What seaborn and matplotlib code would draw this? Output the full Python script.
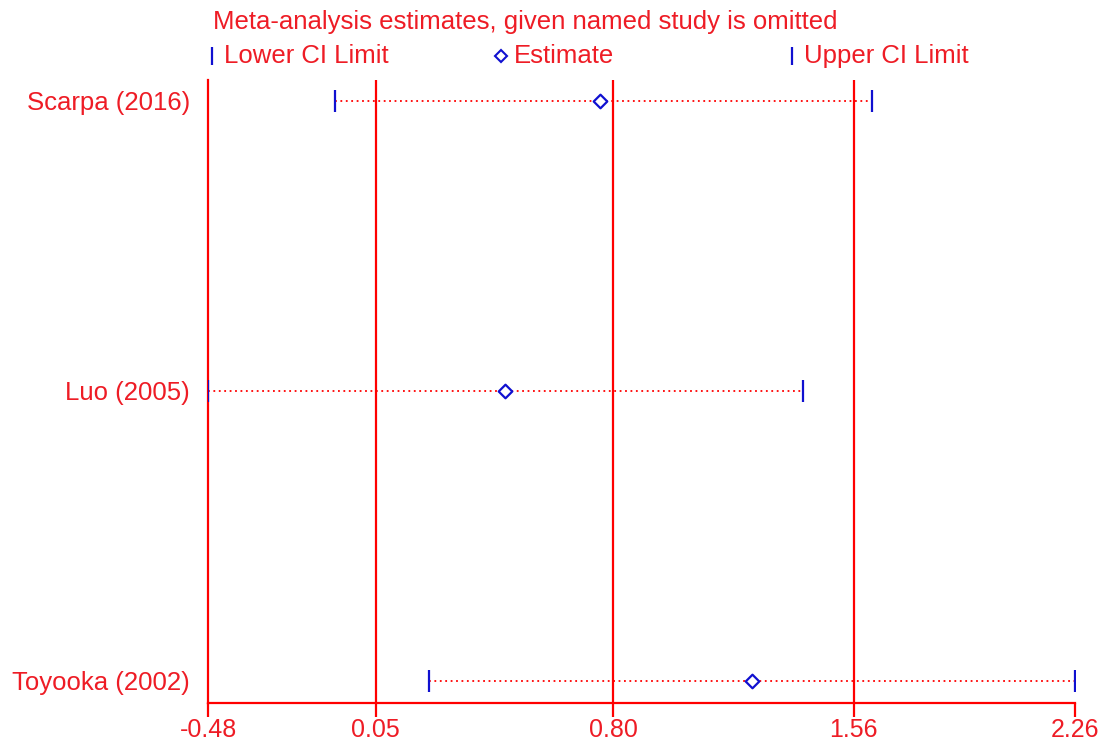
import matplotlib
matplotlib.use("Agg")
import matplotlib.pyplot as plt
import seaborn as sns
import pandas as pd
from matplotlib.lines import Line2D

# ---- data ----
studies = ["Scarpa (2016)", "Luo (2005)", "Toyooka (2002)"]
estimate = [0.76, 0.46, 1.24]
lower = [-0.08, -0.48, 0.22]
upper = [1.62, 1.40, 2.26]
tick_values = [-0.48, 0.05, 0.80, 1.56, 2.26]
tick_labels = ["-0.48", "0.05", "0.80", "1.56", "2.26"]
ref_lines = [0.05, 0.80, 1.56]
title = "Meta-analysis estimates, given named study is omitted"
legend_labels = ["Lower CI Limit", "Estimate", "Upper CI Limit"]

sns.set_style("white")
plt.rcParams["font.family"] = ["Liberation Sans", "DejaVu Sans"]

RED = "#ff0000"
TXT = "#ee1c25"
BLUE = "#1010d0"
FS = 18.5

df = pd.DataFrame({"study": studies, "est": estimate, "lo": lower, "hi": upper})
df["y"] = range(len(df))

fig = plt.figure(figsize=(11.14, 7.44), dpi=100)
ax = fig.add_axes([208 / 1114, 1 - 703 / 744, (1075 - 208) / 1114, (703 - 80) / 744])

for v in ref_lines:
    ax.axvline(v, color=RED, lw=1.6, zorder=1)

ax.hlines(df["y"], df["lo"], df["hi"], colors=RED, linestyles=(0, (1, 2.0)), lw=1.3, zorder=2)
sns.scatterplot(data=df, x="lo", y="y", marker="|", s=260, color=BLUE, linewidth=1.6, ax=ax, zorder=3, legend=False)
sns.scatterplot(data=df, x="hi", y="y", marker="|", s=260, color=BLUE, linewidth=1.6, ax=ax, zorder=3, legend=False)
sns.scatterplot(data=df, x="est", y="y", marker="D", s=48, facecolor="white", edgecolor=BLUE, linewidth=1.6, ax=ax, zorder=4, legend=False)

ax.set_xlim(tick_values[0], tick_values[-1])
ax.set_ylim(len(df) - 1 + 0.076, -0.072)
ax.set_xticks(tick_values)
ax.set_xticklabels(tick_labels)
ax.set_yticks(df["y"])
ax.set_yticklabels(df["study"])
ax.set_xlabel("")
ax.set_ylabel("")

for s in ["top", "right"]:
    ax.spines[s].set_visible(False)
for s in ["left", "bottom"]:
    ax.spines[s].set_color(RED)
    ax.spines[s].set_linewidth(1.6)

ax.tick_params(axis="x", colors=RED, length=10, width=1.6, direction="out", pad=0.5, labelsize=FS - 0.5, labelcolor=TXT, bottom=True)
ax.tick_params(axis="y", length=0, pad=13, labelsize=FS, labelcolor=TXT, left=False)

# title and legend row
fig.text(213 / 1114, 1 - 22 / 744, title, color=TXT, fontsize=FS, ha="left", va="center")
ly = 1 - 56 / 744
leg_items = [(212, "|", 224, legend_labels[0]), (501, "D", 514, legend_labels[1]), (792, "|", 804, legend_labels[2])]
for mx, mk, tx, lab in leg_items:
    if mk == "|":
        fig.add_artist(Line2D([mx / 1114], [ly], marker="|", markersize=13, markeredgewidth=1.6,
                              color=BLUE, transform=fig.transFigure))
    else:
        fig.add_artist(Line2D([mx / 1114], [ly], marker="D", markersize=6.5, markeredgewidth=1.5,
                              markerfacecolor="white", markeredgecolor=BLUE, transform=fig.transFigure))
    fig.text(tx / 1114, ly, lab, color=TXT, fontsize=FS, ha="left", va="center")

fig.savefig("out.png", dpi=100, facecolor="white")
